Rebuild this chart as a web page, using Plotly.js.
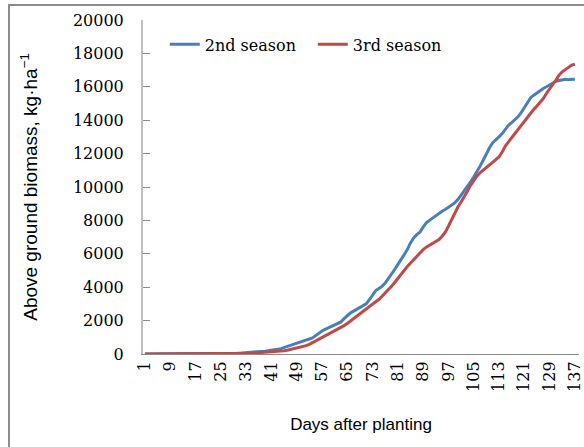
<!DOCTYPE html>
<html>
<head>
<meta charset="utf-8">
<script src="https://cdn.plot.ly/plotly-3.0.1.min.js"></script>
<style>
  html, body { margin: 0; padding: 0; background: #fff; }
  #wrap { position: relative; width: 584px; height: 447px; overflow: hidden; }
  #chart { position: absolute; left: 0; top: 0; width: 584px; height: 447px; }
  #frame { position: absolute; left: 8px; top: 4px; width: 700px; height: 600px;
           border-top: 2px solid #8c8c8c; border-left: 2px solid #8c8c8c; pointer-events: none; }
</style>
</head>
<body>
<div id="wrap"><div id="chart"></div><div id="frame"></div></div>
<script>
// Days after planting 1..137
const days = Array.from({length: 137}, (_, i) => i + 1);

const season2 = [
  0,0,0,0,0,0,0,0,0,0,            // 1-10
  0,0,0,0,0,0,0,0,0,0,            // 11-20
  0,0,0,0,0,0,10,20,30,40,        // 21-30
  50,60,70,80,100,110,130,150,170,190,   // 31-40
  210,240,280,320,380,430,490,560,620,680, // 41-50
  740,800,870,960,1100,1250,1380,1470,1560,1640, // 51-60
  1720,1800,1920,2120,2300,2450,2570,2680,2780,2860, // 61-70
  3000,3250,3550,3800,3920,4050,4250,4500,4780,5060, // 71-80
  5350,5650,5950,6250,6650,6950,7150,7300,7600,7850, // 81-90
  8000,8150,8300,8420,8550,8650,8780,8900,9050,9250, // 91-100
  9500,9750,10000,10300,10600,10900,11250,11600,12000,12350, // 101-110
  12650,12800,13000,13200,13450,13700,13850,14000,14200,14450, // 111-120
  14750,15050,15350,15500,15650,15800,15900,16000,16100,16250, // 121-130
  16330,16380,16420,16450,16430,16440,16450                    // 131-137
];

const season3 = [
  0,0,0,0,0,0,0,0,0,0,            // 1-10
  0,0,0,0,0,0,0,0,0,0,            // 11-20
  0,0,0,0,0,0,0,0,0,5,            // 21-30
  10,20,30,40,50,60,70,80,90,100, // 31-40
  110,120,140,160,190,220,260,300,340,380, // 41-50
  430,500,580,680,780,870,950,1050,1150,1250, // 51-60
  1350,1450,1580,1700,1830,1980,2130,2280,2430,2580, // 61-70
  2720,2860,3000,3130,3260,3450,3650,3850,4050,4280, // 71-80
  4500,4750,5000,5240,5450,5650,5850,6050,6250,6400, // 81-90
  6520,6620,6720,6850,7050,7300,7650,8050,8450,8800, // 91-100
  9100,9400,9750,10100,10400,10650,10850,11000,11150,11300, // 101-110
  11450,11600,11800,12100,12450,12700,12950,13200,13450,13700, // 111-120
  13900,14150,14400,14650,14850,15050,15300,15600,15900,16150, // 121-130
  16400,16700,16900,17050,17200,17300,17350                    // 131-137
];

const xTicks = [1,9,17,25,33,41,49,57,65,73,81,89,97,105,113,121,129,137];
const yTicks = [0,2000,4000,6000,8000,10000,12000,14000,16000,18000,20000];

const traces = [
  {x: days, y: season2, type: 'scatter', mode: 'lines', name: '2nd season',
   line: {color: '#4A7EBB', width: 3}},
  {x: days, y: season3, type: 'scatter', mode: 'lines', name: '3rd season',
   line: {color: '#BE4B48', width: 3}}
];

const layout = {
  width: 584, height: 447,
  margin: {l: 143, r: 5, t: 20, b: 93, pad: 0},
  paper_bgcolor: '#fff', plot_bgcolor: '#fff',
  showlegend: true,
  legend: {orientation: 'h', x: 0.05, y: 0.927, xanchor: 'left', yanchor: 'middle',
           bgcolor: 'rgba(0,0,0,0)', font: {family: 'DejaVu Serif', size: 16, color: '#000'},
           itemwidth: 30, entrywidth: 103, tracegroupgap: 0},
  xaxis: {
    range: [0.4, 138.3], tickmode: 'array', tickvals: xTicks, ticktext: xTicks.map(String),
    tickangle: -90, showgrid: false, zeroline: false, showline: true, linecolor: '#8c8c8c', linewidth: 1,
    ticks: '', ticklabeloverflow: 'allow', tickfont: {family: 'DejaVu Serif', size: 16, color: '#000'},
    title: {text: 'Days after planting', font: {family: 'Liberation Sans', size: 17, color: '#000'}, standoff: 27}
  },
  yaxis: {
    range: [0, 20000], tickmode: 'array', tickvals: yTicks, ticktext: yTicks.map(String),
    showgrid: false, zeroline: false, showline: true, linecolor: '#c0c0c0', linewidth: 2,
    ticks: 'inside', ticklen: 7, tickcolor: '#8c8c8c', tickwidth: 1,
    tickfont: {family: 'DejaVu Serif', size: 16, color: '#000'}, ticklabelstandoff: 14,
    title: {text: 'Above ground biomass, kg·ha<sup>−1</sup>', font: {family: 'Liberation Sans', size: 19, color: '#000'}, standoff: 30}
  }
};

Plotly.newPlot('chart', traces, layout, {staticPlot: true, displayModeBar: false});
</script>
</body>
</html>
